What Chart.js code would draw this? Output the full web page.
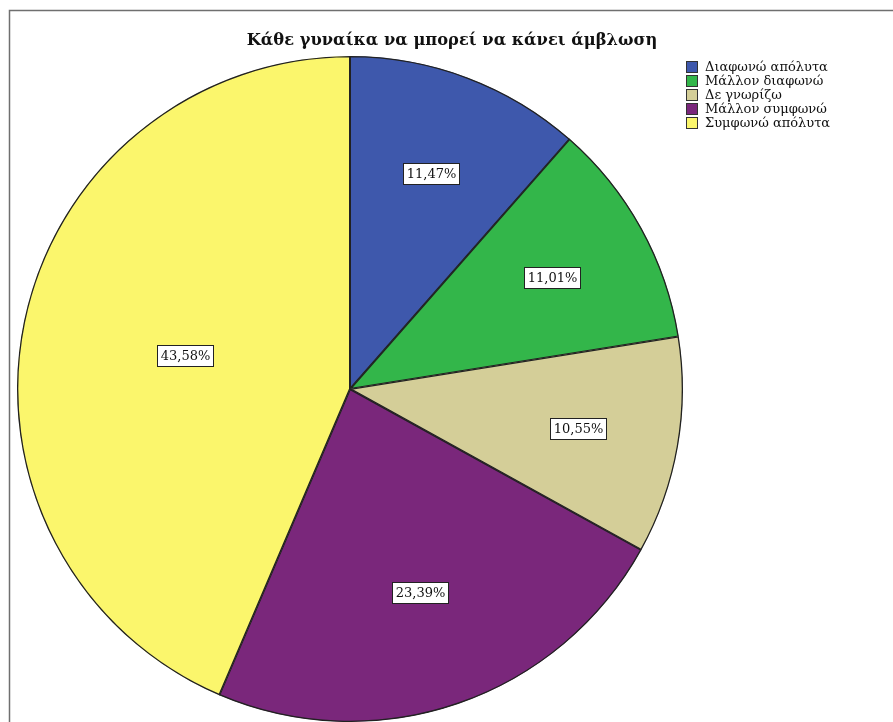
<!DOCTYPE html>
<html>
<head>
<meta charset="utf-8">
<script src="https://cdn.jsdelivr.net/npm/chart.js@4/dist/chart.umd.min.js"></script>
<style>
  html, body { margin: 0; padding: 0; background: #fff; overflow: hidden; }
  #wrap { width: 893px; height: 722px; position: relative; }
</style>
</head>
<body>
<div id="wrap"><canvas id="pie" width="893" height="722"></canvas></div>
<script>
// answers and their shares (percent)
const chartTitle = "Κάθε γυναίκα να μπορεί να κάνει άμβλωση";
const categories = ["Διαφωνώ απόλυτα", "Μάλλον διαφωνώ", "Δε γνωρίζω", "Μάλλον συμφωνώ", "Συμφωνώ απόλυτα"];
const shares = [11.47, 11.01, 10.55, 23.39, 43.58];
const sliceColors = ["#3E58AC", "#33B64A", "#D4CE98", "#7A277B", "#FBF66C"];

const SERIF = "'DejaVu Serif', 'Liberation Serif', serif";

function fmtPct(v) {
  return v.toFixed(2).replace(".", ",") + "%";
}

// outer frame (only left/top edges visible in the window)
const framePlugin = {
  id: "frame",
  beforeDraw(chart) {
    const ctx = chart.ctx;
    ctx.save();
    ctx.strokeStyle = "#6f6f6f";
    ctx.lineWidth = 1.5;
    ctx.beginPath();
    ctx.moveTo(9.5, chart.height + 2);
    ctx.lineTo(9.5, 10.5);
    ctx.lineTo(chart.width + 2, 10.5);
    ctx.stroke();
    ctx.restore();
  },
};

// title + small legend block at the upper right
const headerPlugin = {
  id: "header",
  afterDraw(chart) {
    const ctx = chart.ctx;
    ctx.save();
    ctx.fillStyle = "#111";
    ctx.font = "bold 16.3px " + SERIF;
    ctx.textAlign = "center";
    ctx.textBaseline = "middle";
    ctx.fillText(chartTitle, 452, 41);

    ctx.font = "13px " + SERIF;
    ctx.textAlign = "left";
    categories.forEach((c, i) => {
      const y = 67 + i * 14;
      ctx.fillStyle = sliceColors[i];
      ctx.fillRect(686, y - 6, 12, 12);
      ctx.strokeStyle = "#333";
      ctx.lineWidth = 1;
      ctx.strokeRect(686.5, y - 5.5, 11, 11);
      ctx.fillStyle = "#111";
      ctx.fillText(c, 705, y + 1);
    });
    ctx.restore();
  },
};

// boxed percentage labels near each slice's centroid
const sliceLabelPlugin = {
  id: "sliceLabels",
  afterDatasetsDraw(chart) {
    const ctx = chart.ctx;
    const meta = chart.getDatasetMeta(0);
    ctx.save();
    ctx.font = "13px " + SERIF;
    ctx.textAlign = "center";
    ctx.textBaseline = "middle";
    meta.data.forEach((arc, i) => {
      const { x, y, startAngle, endAngle, outerRadius } = arc.getProps(["x", "y", "startAngle", "endAngle", "outerRadius"]);
      const half = (endAngle - startAngle) / 2;
      const mid = startAngle + half;
      const centroid = (2 * Math.sin(half)) / (3 * half);
      const r = outerRadius * centroid * 1.06;
      const lx = x + Math.cos(mid) * r;
      const ly = y + Math.sin(mid) * r;
      const txt = fmtPct(shares[i]);
      const w = Math.round(ctx.measureText(txt).width + 6);
      const h = 21;
      const bx = Math.round(lx - w / 2), by = Math.round(ly - h / 2);
      ctx.fillStyle = "#fff";
      ctx.fillRect(bx, by, w, h);
      ctx.strokeStyle = "#222";
      ctx.lineWidth = 1;
      ctx.strokeRect(bx + 0.5, by + 0.5, w, h);
      ctx.fillStyle = "#111";
      ctx.fillText(txt, bx + w / 2 + 0.5, by + h / 2 + 1);
    });
    ctx.restore();
  },
};

new Chart(document.getElementById("pie"), {
  type: "pie",
  data: {
    labels: categories,
    datasets: [{
      data: shares,
      backgroundColor: sliceColors,
      borderColor: "#222",
      borderWidth: 1,
      borderAlign: "inner",
    }],
  },
  options: {
    responsive: false,
    animation: false,
    events: [],
    layout: { padding: { left: 17, top: 56, right: 210, bottom: 0 } },
    plugins: {
      legend: { display: false },
      title: { display: false },
      tooltip: { enabled: false },
    },
  },
  plugins: [framePlugin, sliceLabelPlugin, headerPlugin],
});
</script>
</body>
</html>
